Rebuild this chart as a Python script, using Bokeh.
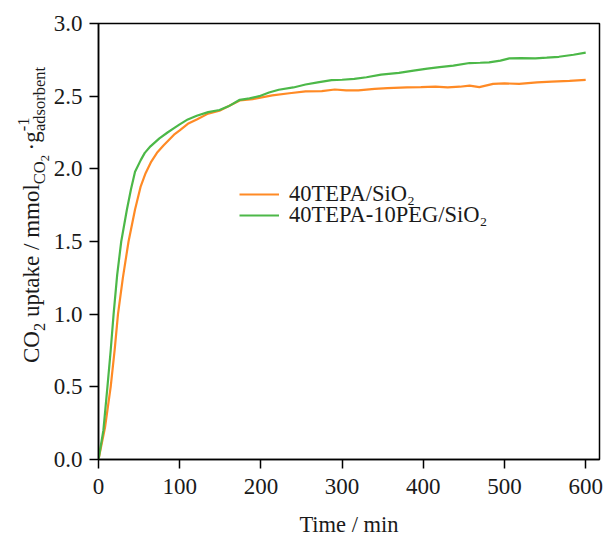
from bokeh.plotting import figure
from bokeh.layouts import row
from bokeh.models import Range1d, FixedTicker, Legend, LegendItem, NumeralTickFormatter, Div
from bokeh.embed import file_html
from bokeh.resources import INLINE

# ---------------- data ----------------
time_tepa = [0, 8, 15, 20, 24, 30, 37, 45, 52, 58, 65, 72, 80, 93, 100, 110, 121, 135, 149,
             160, 174, 190, 214, 235, 255, 275, 291, 305, 320, 340, 356, 380, 397, 415, 430,
             445, 457, 469, 486, 500, 518, 540, 558, 580, 600]
uptake_tepa = [0, 0.22, 0.50, 0.76, 1.00, 1.25, 1.50, 1.72, 1.88, 1.97, 2.05, 2.11, 2.16, 2.235,
               2.265, 2.31, 2.34, 2.38, 2.40, 2.43, 2.47, 2.48, 2.505, 2.52, 2.533, 2.535, 2.546,
               2.54, 2.54, 2.55, 2.556, 2.56, 2.562, 2.565, 2.56, 2.565, 2.573, 2.562, 2.585,
               2.588, 2.585, 2.595, 2.60, 2.605, 2.612]

time_peg = [0, 6, 11, 15, 18.6, 23, 28, 35, 40, 45, 52, 57, 64, 75, 85, 93, 100, 110, 121, 135,
            149, 160, 174, 186, 198, 210, 222, 240, 255, 270, 287, 300, 315, 330, 348, 370, 388,
            405, 420, 437, 457, 470, 481, 495, 506, 520, 538, 552, 567, 585, 600]
uptake_peg = [0, 0.20, 0.50, 0.75, 1.00, 1.27, 1.50, 1.72, 1.86, 1.98, 2.06, 2.11, 2.155, 2.21,
              2.25, 2.28, 2.306, 2.34, 2.365, 2.39, 2.405, 2.43, 2.475, 2.485, 2.50, 2.525, 2.544,
              2.56, 2.58, 2.595, 2.61, 2.613, 2.619, 2.63, 2.648, 2.66, 2.676, 2.69, 2.70, 2.71,
              2.728, 2.73, 2.733, 2.745, 2.76, 2.762, 2.76, 2.765, 2.771, 2.785, 2.80]

series_names = ["40TEPA/SiO\u2082", "40TEPA-10PEG/SiO\u2082"]
x_ticks = [0, 100, 200, 300, 400, 500, 600]
y_ticks = [0.0, 0.5, 1.0, 1.5, 2.0, 2.5, 3.0]
x_label = "Time / min"

# ---------------- styling ----------------
FONT = "Liberation Serif"
ORANGE = "#ff8a25"
GREEN = "#4cb848"
TEXT = "#1a1a1a"

W, H = 603, 539
LW = 50                      # width of the strip holding the y-axis title
BL, BR, BT, BB = 96 - LW, 4, 23, 77
X_END, Y_END = 617, 3.0

p = figure(width=W - LW, height=H, output_backend="svg", toolbar_location=None,
           x_range=Range1d(0, X_END), y_range=Range1d(0, Y_END),
           min_border_left=BL, min_border_right=BR, min_border_top=BT, min_border_bottom=BB,
           margin=0)
p.grid.visible = False
p.outline_line_color = "black"
p.outline_line_width = 1.5
p.background_fill_color = "white"
p.border_fill_color = "white"

for ax in (p.xaxis[0], p.yaxis[0]):
    ax.axis_line_width = 1.5
    ax.axis_line_color = "black"
    ax.major_tick_line_width = 1.5
    ax.major_tick_line_color = "black"
    ax.major_tick_in = 0
    ax.major_tick_out = 9
    ax.minor_tick_line_color = None
    ax.major_label_text_font = FONT
    ax.major_label_text_font_size = "23px"
    ax.major_label_text_color = TEXT
    ax.axis_label_text_font = FONT
    ax.axis_label_text_font_style = "normal"
    ax.axis_label_text_font_size = "22.5px"
    ax.axis_label_text_color = TEXT

p.xaxis.ticker = FixedTicker(ticks=x_ticks)
p.yaxis.ticker = FixedTicker(ticks=y_ticks)
p.yaxis.formatter = NumeralTickFormatter(format="0.0")
p.xaxis.major_label_standoff = 10
p.yaxis.major_label_standoff = 7
p.xaxis.axis_label = x_label
p.xaxis.axis_label_standoff = 15

r1 = p.line(time_tepa, uptake_tepa, line_color=ORANGE, line_width=2.2)
r2 = p.line(time_peg, uptake_peg, line_color=GREEN, line_width=2.2)

# one legend per row, to reproduce the tight row spacing
legend_rows = [(series_names[0], r1, 252), (series_names[1], r2, 231)]
for name, rend, bottom in legend_rows:
    lg = Legend(items=[LegendItem(label=name, renderers=[rend])],
                location=(141, bottom), border_line_color=None, background_fill_alpha=0,
                padding=0, margin=0, glyph_width=40, glyph_height=20, label_height=20,
                spacing=0, label_standoff=10, label_text_font=FONT,
                label_text_font_size="22.5px", label_text_color=TEXT)
    p.add_layout(lg)

# ---------------- y axis title (with sub/superscripts), rotated HTML text ----------------
SUB = "font-size:16.5px;position:relative;top:6px;"
SUBSUB = "font-size:12.5px;position:relative;top:4px;"
SUP = "font-size:16.5px;position:relative;top:-10px;"
title_html = (
    f"CO<span style='{SUB}'>2</span> uptake / mmol"
    f"<span style='{SUB}'>CO<span style='{SUBSUB}'>2</span></span>\u2009\u00b7g"
    f"<span style='{SUP}'>-1</span>"
    f"<span style='{SUB}margin-left:-13.5px;'>adsorbent</span>"
)
BASE_LEFT = 20      # left edge of the rotated line box (px); baseline lands near x=40
START_TOP = 363     # where the title starts, px from the top
ylab = Div(
    text=(f"<div style=\"display:inline-block;white-space:nowrap;"
          f"font-family:'{FONT}';font-size:23px;line-height:23px;color:{TEXT};"
          f"transform-origin:0 0;"
          f"transform:translate({BASE_LEFT}px,{START_TOP}px) rotate(-90deg);\">"
          f"{title_html}</div>"),
    width=LW, height=H, margin=0)

layout = row(ylab, p, spacing=0)
open("out.html", "w").write(file_html(layout, INLINE))
